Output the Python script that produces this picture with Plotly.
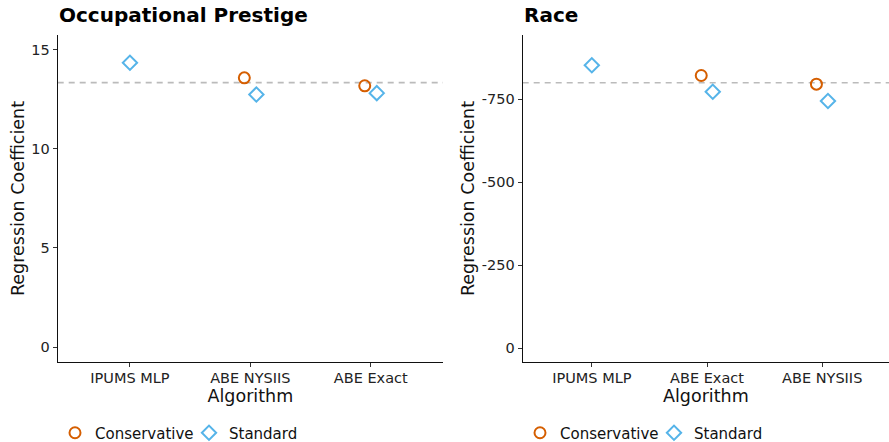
import plotly.graph_objects as go

# ---- data ----
prestige_categories = ["IPUMS MLP", "ABE NYSIIS", "ABE Exact"]
prestige_conservative = [None, 13.57, 13.17]
prestige_standard = [14.33, 12.73, 12.80]
prestige_reference = 13.33

race_categories = ["IPUMS MLP", "ABE Exact", "ABE NYSIIS"]
race_conservative = [None, -822, -796]
race_standard = [-853, -773, -745]
race_reference = -800

prestige_ticks = [0, 5, 10, 15]
race_ticks = [0, -250, -500, -750]

ORANGE = "#D55E00"
BLUE = "#56B4E9"
FONT = "DejaVu Sans"
DODGE = 0.05

W, H = 889, 442

fig = go.Figure()


def add_panel(cats, cons, std, xa, ya, legend):
    idx = list(range(1, len(cats) + 1))
    cx, cy, sx, sy = [], [], [], []
    for i, c, s in zip(idx, cons, std):
        both = c is not None and s is not None
        if c is not None:
            cx.append(i - DODGE if both else i)
            cy.append(c)
        if s is not None:
            sx.append(i + DODGE if both else i)
            sy.append(s)
    fig.add_trace(go.Scatter(x=cx, y=cy, mode="markers", name="Conservative",
                             xaxis=xa, yaxis=ya, legend=legend,
                             marker=dict(symbol="circle-open", size=11, color=ORANGE,
                                         line=dict(width=2, color=ORANGE))))
    fig.add_trace(go.Scatter(x=sx, y=sy, mode="markers", name="Standard",
                             xaxis=xa, yaxis=ya, legend=legend,
                             marker=dict(symbol="diamond-open", size=11, color=BLUE,
                                         line=dict(width=2, color=BLUE))))


add_panel(prestige_categories, prestige_conservative, prestige_standard, "x", "y", "legend")
add_panel(race_categories, race_conservative, race_standard, "x2", "y2", "legend2")

ytop = 1 - 35 / H
ybot = 1 - 362 / H

axis_common = dict(showline=True, linecolor="#111111", linewidth=1.2, ticks="outside",
                   ticklen=4, tickcolor="#333333", tickwidth=1, showgrid=False, zeroline=False,
                   automargin=False,
                   tickfont=dict(family=FONT, size=14.5, color="#222222"),
                   title_font=dict(family=FONT, size=17.5, color="#111111"))

legend_common = dict(orientation="h", y=1 - 433 / H, xanchor="left", yanchor="middle",
                     font=dict(family=FONT, size=15, color="#111111"), itemwidth=30,
                     entrywidth=89, entrywidthmode="pixels",
                     tracegroupgap=0, bgcolor="rgba(0,0,0,0)")

fig.update_layout(
    width=W, height=H, margin=dict(l=0, r=0, t=0, b=0, autoexpand=False),
    plot_bgcolor="white", paper_bgcolor="white",
    font=dict(family=FONT),
    xaxis=dict(domain=[57.7 / W, 443 / W], anchor="y", range=[0.4, 3.6],
               tickvals=[1, 2, 3], ticktext=prestige_categories, ticklabelstandoff=-2,
               title=dict(text="Algorithm", standoff=2), **axis_common),
    yaxis=dict(domain=[ybot, ytop], anchor="x", range=[-0.75, 15.73],
               tickvals=prestige_ticks, ticktext=[str(t) for t in prestige_ticks],
               title=dict(text="Regression Coefficient", standoff=2), **axis_common),
    xaxis2=dict(domain=[522.7 / W, 1.0], anchor="y2", range=[0.4, 3.58],
                tickvals=[1, 2, 3], ticktext=race_categories, ticklabelstandoff=-2,
                title=dict(text="Algorithm", standoff=2), **axis_common),
    yaxis2=dict(domain=[ybot, ytop], anchor="x2", range=[41, -944],
                tickvals=race_ticks, ticktext=[str(t) for t in race_ticks],
                title=dict(text="Regression Coefficient", standoff=2), **axis_common),
    legend=dict(x=55 / W, **legend_common),
    legend2=dict(x=520 / W, **legend_common),
    showlegend=True,
)

# reference dashed lines
fig.add_shape(type="line", xref="x domain", yref="y", x0=0, x1=1,
              y0=prestige_reference, y1=prestige_reference,
              line=dict(color="#BBBBBB", width=1.6, dash="6px,5px"), layer="below")
fig.add_shape(type="line", xref="x2 domain", yref="y2", x0=0, x1=1,
              y0=race_reference, y1=race_reference,
              line=dict(color="#BBBBBB", width=1.6, dash="6px,5px"), layer="below")

# panel titles
fig.add_annotation(text="<b>Occupational Prestige</b>", xref="paper", yref="paper",
                   x=57 / W, y=1 - 15 / H, xanchor="left", yanchor="middle", showarrow=False,
                   font=dict(family=FONT, size=20, color="black"))
fig.add_annotation(text="<b>Race</b>", xref="paper", yref="paper",
                   x=522 / W, y=1 - 15 / H, xanchor="left", yanchor="middle", showarrow=False,
                   font=dict(family=FONT, size=20, color="black"))

fig.write_html("out.html", config={"displayModeBar": False},
               post_script="document.body.style.margin='0';document.body.style.overflow='hidden';")
